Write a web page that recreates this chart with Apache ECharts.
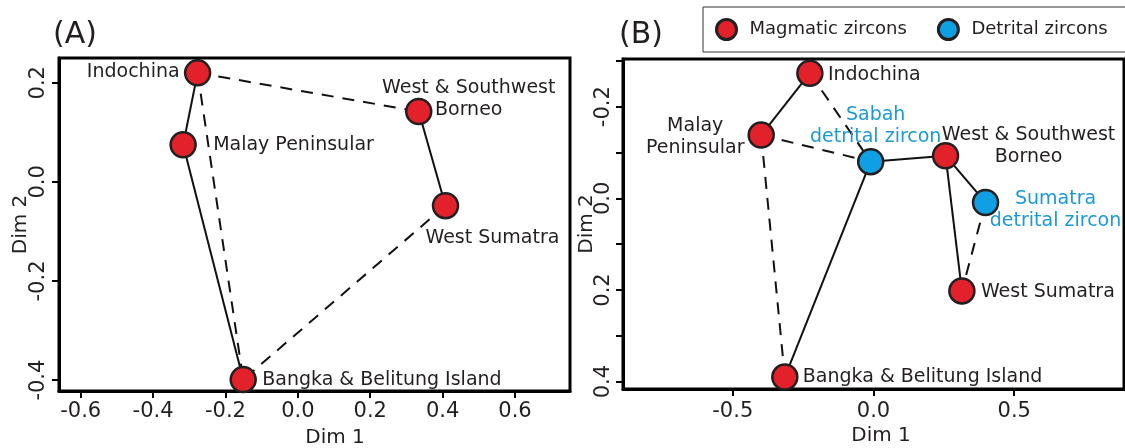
<!DOCTYPE html>
<html>
<head>
<meta charset="utf-8">
<script src="https://cdn.jsdelivr.net/npm/echarts@6/dist/echarts.min.js"></script>
<style>
html,body{margin:0;padding:0;background:#fff;}
#chart{width:1125px;height:448px;}
</style>
</head>
<body>
<div id="chart"></div>
<script>
// ---------- Panel A data ----------
const labelsA = ['Indochina', 'Malay Peninsular', 'West & Southwest\nBorneo', 'West Sumatra', 'Bangka & Belitung Island'];
const dim1A = [-0.277, -0.317, 0.334, 0.408, -0.151];
const dim2A = [0.220, 0.075, 0.142, -0.048, -0.399];
const solidLinksA = [[0, 1], [1, 4], [2, 3]];
const dashedLinksA = [[0, 2], [0, 4], [3, 4]];
const xTicksA = [-0.6, -0.4, -0.2, 0.0, 0.2, 0.4, 0.6];
const yTicksA = [-0.4, -0.2, 0.0, 0.2];

// ---------- Panel B data ----------
const labelsB = ['Indochina', 'Malay\nPeninsular', 'Sabah\ndetrital zircon', 'West & Southwest\nBorneo', 'Sumatra\ndetrital zircon', 'West Sumatra', 'Bangka & Belitung Island'];
const typesB = ['Magmatic zircons', 'Magmatic zircons', 'Detrital zircons', 'Magmatic zircons', 'Detrital zircons', 'Magmatic zircons', 'Magmatic zircons'];
const dim1B = [-0.226, -0.399, -0.010, 0.256, 0.398, 0.314, -0.315];
const dim2B = [-0.273, -0.138, -0.080, -0.093, 0.009, 0.202, 0.390];
const solidLinksB = [[0, 1], [2, 3], [3, 4], [3, 5], [2, 6]];
const dashedLinksB = [[0, 2], [1, 2], [1, 6], [4, 5]];
const xTicksB = [-0.5, 0.0, 0.5];
const yTicksB = [-0.3, -0.2, -0.1, 0.0, 0.1, 0.2, 0.3, 0.4];
const yLabelsB = [-0.2, 0.0, 0.2, 0.4];

const legendNames = ['Magmatic zircons', 'Detrital zircons'];

// ---------- styles ----------
const FONT = 'DejaVu Sans';
const TXT = '#231f20';
const RED = '#e3212a';
const BLUE = '#0ea0e2';
const BLUE_TXT = '#1a9ad8';
const typeColor = {'Magmatic zircons': RED, 'Detrital zircons': BLUE};

// label placement relative to symbol centre (style only)
const labelPosA = [
  {align: 'right', dx: -18, dy: -1},
  {align: 'left', dx: 30, dy: 0},
  {align: 'center', dx: 50, dy: -12},
  {align: 'left', dx: -20, dy: 32},
  {align: 'left', dx: 19, dy: 0}
];
const labelPosB = [
  {align: 'left', dx: 18, dy: 2},
  {align: 'center', dx: -66, dy: 2},
  {align: 'center', dx: 5, dy: -36},
  {align: 'center', dx: 83, dy: -10},
  {align: 'center', dx: 70, dy: 8},
  {align: 'left', dx: 19, dy: 1},
  {align: 'left', dx: 18, dy: 0}
];

function fmt(v) { return Number(v).toFixed(1); }

function pointItem(x, y, text, pos, color) {
  return {
    value: [x, y],
    label: {
      show: true,
      formatter: text,
      position: 'inside',
      align: pos.align,
      verticalAlign: 'middle',
      offset: [pos.dx, pos.dy],
      color: color,
      fontFamily: FONT,
      fontSize: 19,
      lineHeight: 22
    }
  };
}

function linkSeries(links, xs, ys, axisIdx, dashed) {
  return links.map(function (l) {
    return {
      type: 'line',
      xAxisIndex: axisIdx,
      yAxisIndex: axisIdx,
      data: [[xs[l[0]], ys[l[0]]], [xs[l[1]], ys[l[1]]]],
      symbol: 'none',
      silent: true,
      z: 2,
      lineStyle: {color: '#111', width: 2, type: dashed ? [12, 9] : 'solid'}
    };
  });
}

const markerStyle = function (c) {
  return {color: c, borderColor: TXT, borderWidth: 2.5, opacity: 1};
};

const series = [];
series.push.apply(series, linkSeries(solidLinksA, dim1A, dim2A, 0, false));
series.push.apply(series, linkSeries(dashedLinksA, dim1A, dim2A, 0, true));
series.push.apply(series, linkSeries(solidLinksB, dim1B, dim2B, 1, false));
series.push.apply(series, linkSeries(dashedLinksB, dim1B, dim2B, 1, true));

// Panel A points (all magmatic)
series.push({
  type: 'scatter', name: 'Magmatic zircons', xAxisIndex: 0, yAxisIndex: 0,
  symbolSize: 25, z: 5, itemStyle: markerStyle(RED),
  data: dim1A.map(function (x, i) { return pointItem(x, dim2A[i], labelsA[i], labelPosA[i], TXT); })
});
// Panel B points by type
legendNames.forEach(function (t) {
  const data = [];
  dim1B.forEach(function (x, i) {
    if (typesB[i] === t) {
      data.push(pointItem(x, dim2B[i], labelsB[i], labelPosB[i], t === 'Detrital zircons' ? BLUE_TXT : TXT));
    }
  });
  series.push({
    type: 'scatter', name: t, xAxisIndex: 1, yAxisIndex: 1,
    symbolSize: 25, z: 5, itemStyle: markerStyle(typeColor[t]), data: data
  });
});

function xAxis(grid, min, max, ticks, nameGap, namePad, margin) {
  return {
    type: 'value', gridIndex: grid, min: min, max: max,
    name: 'Dim 1', nameLocation: 'middle', nameGap: nameGap, nameMoveOverlap: false,
    nameTextStyle: {fontFamily: FONT, fontSize: 20, color: TXT, padding: [0, 0, 0, namePad]},
    axisLine: {show: true, onZero: false, lineStyle: {color: '#000', width: 3}},
    axisTick: {show: true, inside: false, length: 7, lineStyle: {color: '#000', width: 2}, customValues: ticks},
    axisLabel: {show: true, customValues: ticks, formatter: fmt, margin: margin, fontFamily: FONT, fontSize: 21, color: TXT},
    splitLine: {show: false}
  };
}
function yAxis(grid, min, max, ticks, labels, inverse, nameGap, margin) {
  return {
    type: 'value', gridIndex: grid, min: min, max: max, inverse: inverse,
    name: 'Dim 2', nameLocation: 'middle', nameGap: nameGap, nameRotate: 90, nameMoveOverlap: false,
    nameTextStyle: {fontFamily: FONT, fontSize: 20, color: TXT},
    axisLine: {show: true, onZero: false, lineStyle: {color: '#000', width: 3}},
    axisTick: {show: true, inside: false, length: 7, lineStyle: {color: '#000', width: 2}, customValues: ticks},
    axisLabel: {show: true, customValues: labels, formatter: fmt, rotate: 90, margin: margin, fontFamily: FONT, fontSize: 21, color: TXT},
    splitLine: {show: false}
  };
}

const option = {
  animation: false,
  backgroundColor: '#fff',
  textStyle: {fontFamily: FONT},
  graphic: [
    {type: 'text', left: 53, top: 20, style: {text: '(A)', fontSize: 30, fontFamily: FONT, fill: TXT}},
    {type: 'text', left: 619, top: 20, style: {text: '(B)', fontSize: 30, fontFamily: FONT, fill: TXT}}
  ],
  legend: {
    data: legendNames, left: 703, top: 7, width: 480, orient: 'horizontal', selectedMode: false,
    icon: 'circle', itemWidth: 20, itemHeight: 20, itemGap: 30,
    padding: [11, 20, 11, 12], borderColor: '#333', borderWidth: 1,
    itemStyle: {borderColor: TXT, borderWidth: 3},
    textStyle: {fontFamily: FONT, fontSize: 18, color: TXT, padding: [0, 0, 0, 8]}
  },
  grid: [
    {left: 59, top: 58, width: 511, height: 333, show: true, borderColor: '#000', borderWidth: 3, backgroundColor: 'transparent', outerBoundsMode: 'none', containLabel: false},
    {left: 623, top: 59, width: 501, height: 330, show: true, borderColor: '#000', borderWidth: 3, backgroundColor: 'transparent', outerBoundsMode: 'none', containLabel: false}
  ],
  xAxis: [
    xAxis(0, -0.66, 0.752, xTicksA, 37, 41, 10),
    xAxis(1, -0.89, 0.89, xTicksB, 37, 15, 12)
  ],
  yAxis: [
    yAxis(0, -0.422, 0.25, yTicksA, yTicksA, false, 28, 10),
    yAxis(1, -0.304, 0.416, yTicksB, yLabelsB, true, 26, 9)
  ],
  series: series
};

const chart = echarts.init(document.getElementById('chart'), null, {renderer: 'canvas'});
chart.setOption(option);
</script>
</body>
</html>
